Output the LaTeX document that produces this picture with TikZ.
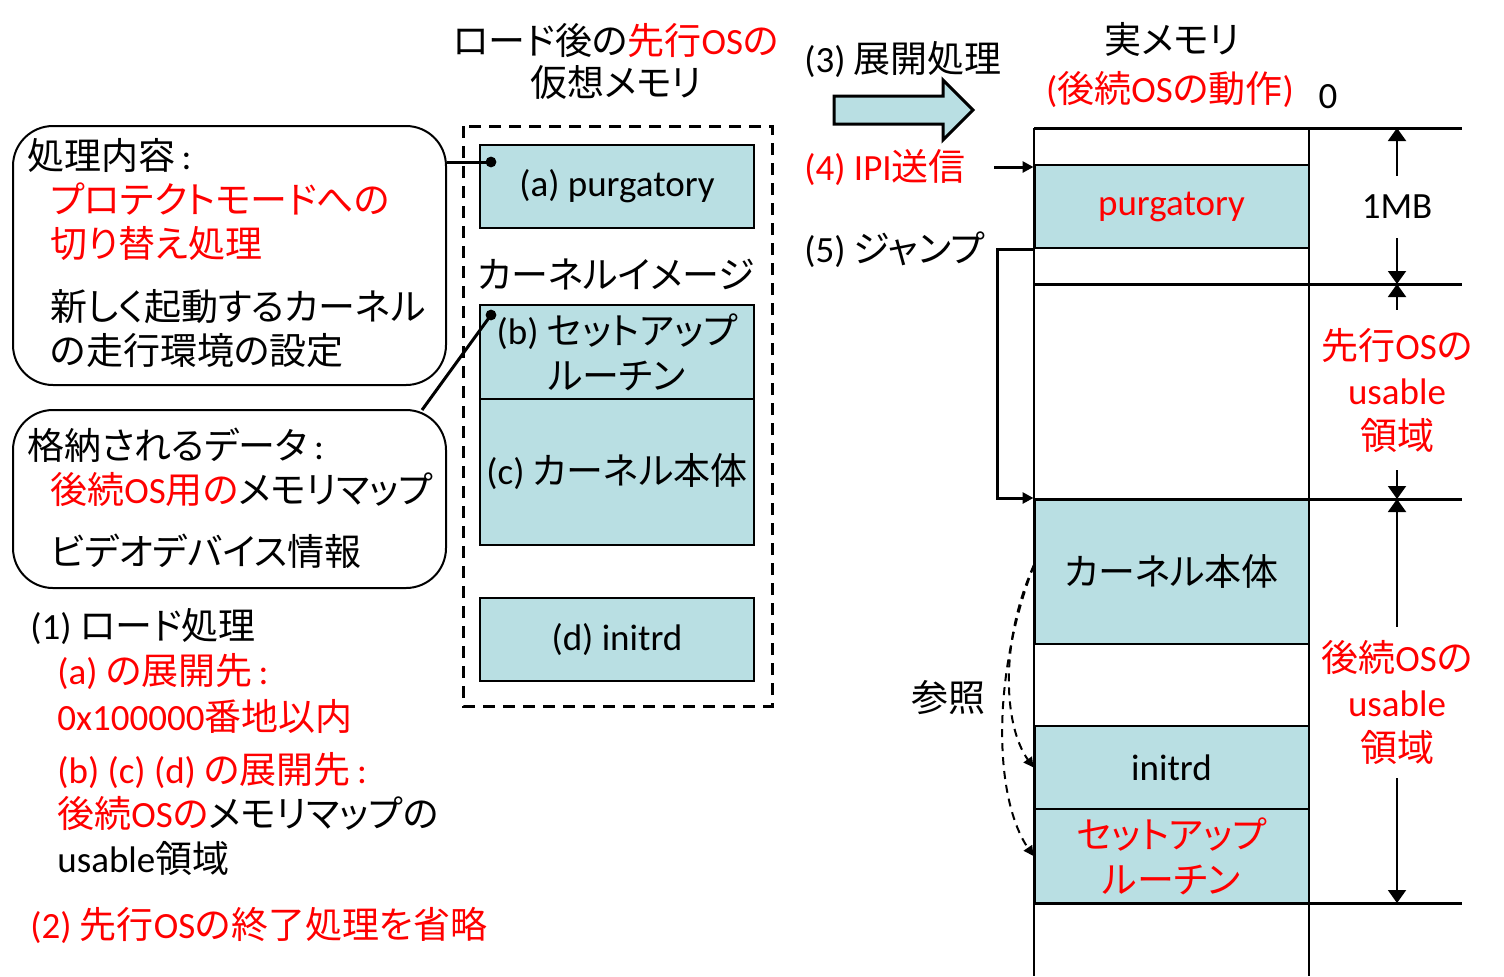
\documentclass[tikz,border=0pt]{standalone}
\usepackage{fontspec}
\setmainfont{Noto Sans CJK JP}[RawFeature={+palt}]
\newfontfamily\lt{Carlito}
\usetikzlibrary{arrows.meta}
\definecolor{boxblue}{RGB}{185,223,227}
\tikzset{
  roundbox/.style={draw, line width=1pt, rounded corners=20pt},
  membox/.style={draw, line width=1pt, fill=boxblue, align=center, inner sep=0pt, minimum width=137pt},
  lbl/.style={inner sep=0pt, anchor=west, text height=14pt, text depth=3pt},
  dimlbl/.style={inner sep=0pt, align=center},
  dimarrow/.style={line width=1pt, -{Triangle[width=9pt,length=6.5pt]}},
  ptr/.style={line width=1.5pt, -{Triangle[width=5.5pt,length=5.5pt]}},
  leader/.style={line width=1.5pt},
  memline/.style={line width=1.5pt},
  vframe/.style={line width=1.5pt, dash pattern=on 6pt off 4pt},
  refline/.style={line width=1pt, dash pattern=on 4pt off 3pt, -{Triangle[width=5pt,length=5pt]}}
}

\begin{document}
\begin{tikzpicture}[x=0.5pt, y=-0.5pt, font=\fontsize{18.5pt}{22.5pt}\selectfont]
  \useasboundingbox (0,0) rectangle (1504,976);

  % left call-outs
  \node[roundbox, minimum width=216.5pt, minimum height=129.5pt] (naiyou) at (229.5,255.5) {};
  \node[roundbox, minimum width=216.5pt, minimum height=89pt] (data) at (229.5,499) {};
  \node[lbl] (naiyouHead) at (27,158) {処理内容{\lt\,:}};
  \node[lbl, text=red] (naiyou1) at (50,202) {プロテクトモードへの};
  \node[lbl, text=red] (naiyou2) at (50,246) {切り替え処理};
  \node[lbl] (naiyou3) at (50,309) {新しく起動するカーネル};
  \node[lbl] (naiyou4) at (50,353) {の走行環境の設定};
  \node[lbl] (dataHead) at (27,448) {格納されるデータ{\lt\,:}};
  \node[lbl] (data1) at (50,492) {\textcolor{red}{後続{\lt OS}用の}メモリマップ};
  \node[lbl] (data2) at (50,554) {ビデオデバイス情報};

  % virtual memory after load
  \node (title1) at (616,41) {ロード後の\textcolor{red}{先行{\lt OS}の}};
  \node (title2) at (616,83) {仮想メモリ};
  \draw[vframe] (463,126) rectangle (772,706);
  \node[membox, minimum height=41.5pt] (va) at (617,186.5) {\lt (a) purgatory};
  \node (kimage) at (616,274) {カーネルイメージ};
  \node[membox, minimum height=47pt] (vb) at (617,352) {{\lt (b)} セットアップ\\ルーチン};
  \node[membox, minimum height=73pt] (vc) at (617,472) {{\lt (c)} カーネル本体};
  \node[membox, minimum height=41.5pt] (vd) at (617,639.5) {\lt (d) initrd};

  \coordinate (dotA) at (491,162);
  \coordinate (dotB) at (491,315);
  \coordinate (dataTop) at (422,410);
  \draw[leader] (naiyou.east |- dotA) -- (dotA);
  \draw[leader] (dataTop) -- (dotB);
  \fill (dotA) circle (2.7pt);
  \fill (dotB) circle (2.7pt);

  % steps
  \node[lbl] (load) at (30,628) {{\lt (1)} ロード処理};
  \node[lbl, text=red] (loadA) at (57,673) {{\lt (a)} の展開先{\lt\,:}};
  \node[lbl, text=red] (loadA2) at (57,719) {{\lt 0x100000}番地以内};
  \node[lbl, text=red] (loadB) at (57,772) {{\lt (b) (c) (d)} の展開先{\lt\,:}};
  \node[lbl] (loadB2) at (57,816) {\textcolor{red}{後続{\lt OS}の}メモリマップの};
  \node[lbl] (loadB3) at (57,861) {{\lt usable}領域};
  \node[lbl, text=red] (skip) at (30,927) {{\lt (2)} 先行{\lt OS}の終了処理を省略};

  \node[lbl] (expand) at (804,61) {{\lt (3)} 展開処理};
  \filldraw[fill=boxblue, line width=1.5pt] (834,96) -- (943,96) -- (943,80) -- (973,110)
    -- (943,140) -- (943,124) -- (834,124) -- cycle;
  \node[lbl, text=red] (ipi) at (804,169) {{\lt (4) IPI}送信};
  \node[lbl] (jump) at (804,251) {{\lt (5)} ジャンプ};

  % real memory
  \node (jitsu) at (1172,39) {実メモリ};
  \node[text=red] (dousa) at (1170,89) {{\lt (}後続{\lt OS}の動作{\lt )}};
  \node (zero) at (1328,97) {\lt 0};
  \draw[line width=1pt] (1034,128) -- (1034,976);
  \draw[line width=1pt] (1309,128) -- (1309,976);
  \node[membox, minimum height=41.5pt, text=red] (purg) at (1171.5,206.5) {\lt purgatory};
  \node[membox, minimum height=72.5pt] (kern) at (1171.5,571.5) {カーネル本体};
  \node[membox, minimum height=41.5pt] (ird) at (1171.5,767.5) {\lt initrd};
  \node[membox, minimum height=47pt, text=red] (setup) at (1171.5,856) {セットアップ\\ルーチン};
  \foreach \y/\n in {128/0,284/1,499/2,903/3}{
    \draw[memline] (1034,\y) coordinate (w\n) -- (1462,\y) coordinate (e\n);
  }

  \node[dimlbl, minimum height=31pt] (mb) at (1397,207) {\lt 1MB};
  \draw[dimarrow] (mb.north) -- (mb.north |- e0);
  \draw[dimarrow] (mb.south) -- (mb.south |- e1);
  \node[dimlbl, minimum height=80pt, text=red] (prevos) at (1397,390) {先行{\lt OS}の\\{\lt usable}\\領域};
  \draw[dimarrow] (prevos.north) -- (prevos.north |- e1);
  \draw[dimarrow] (prevos.south) -- (prevos.south |- e2);
  \node[dimlbl, minimum height=75.5pt, text=red] (nextos) at (1397,702.5) {後続{\lt OS}の\\{\lt usable}\\領域};
  \draw[dimarrow] (nextos.north) -- (nextos.north |- e2);
  \draw[dimarrow] (nextos.south) -- (nextos.south |- e3);

  \coordinate (ipiStart) at (994,167);
  \draw[ptr] (ipiStart) -- (ipiStart -| purg.west);
  \draw[ptr] (purg.south west) -- ++(-36,0) |- (kern.north west);

  \coordinate (refFrom) at (1034,565);
  \draw[refline] (refFrom) .. controls (1000,640) and (1003,725) .. (ird.west);
  \draw[refline] (refFrom) .. controls (990,680) and (995,800) .. (setup.west);
  \node (sansho) at (948,698) {参照};
\end{tikzpicture}
\end{document}
